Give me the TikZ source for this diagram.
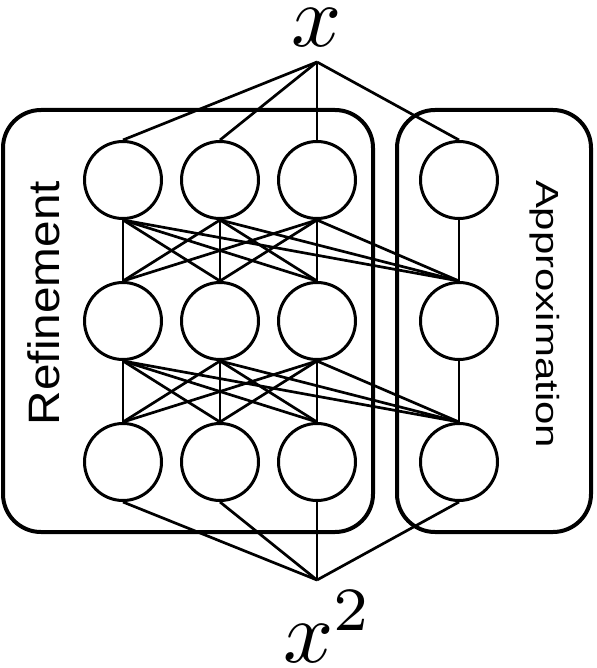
\documentclass[tikz,border=0pt]{standalone}
\usepackage{fontspec}
\newfontfamily\labelfont{Liberation Sans}
\begin{document}
\begin{tikzpicture}[x=1pt,y=-1pt,
  neuron/.style={circle,draw,line width=3pt,minimum size=77pt,inner sep=0pt},
  link/.style={line width=2.7pt},
  group/.style={draw,line width=4pt,rounded corners=38pt},
  lbl/.style={inner sep=0pt}]
\useasboundingbox (0,0) rectangle (596,668);
\draw[group] (3,110) rectangle (373,532);
\draw[group] (397,110) rectangle (591,532);
\foreach \r/\y in {1/180,2/321,3/462}{
  \foreach \c/\x in {1/123,2/220,3/317,4/459}{
    \node[neuron] (n\r\c) at (\x,\y) {};
  }
}
\coordinate (top) at (317,62);
\coordinate (bot) at (317,580);
\foreach \c in {1,...,4} \draw[link] (top) -- (n1\c.north);
\foreach \c in {1,...,4} \draw[link] (bot) -- (n3\c.south);
\foreach \ra/\rb in {1/2,2/3}{
  \foreach \i in {1,2,3}{
    \foreach \j in {1,...,4}{
      \draw[link] (n\ra\i.south) -- (n\rb\j.north);
    }
  }
  \draw[link] (n\ra4.south) -- (n\rb4.north);
}
\node[lbl,rotate=90] (ref) at (44,303) {\labelfont\fontsize{44}{44}\selectfont\scalebox{1.085}[1]{Refinement}};
\node[lbl,rotate=-90] (app) at (545,314) {\labelfont\fontsize{32}{32}\selectfont\scalebox{1.31}[1]{Approximation}};
\node[lbl,anchor=base west] (xin) at (291,47) {\scalebox{8.8}{$x$}};
\node[lbl,anchor=base west] (xout) at (283,662) {\scalebox{8.8}{$x^2$}};
\end{tikzpicture}
\end{document}
